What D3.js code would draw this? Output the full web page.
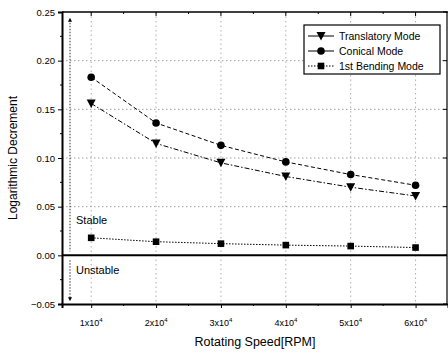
<!DOCTYPE html>
<html><head><meta charset="utf-8">
<script src="https://cdn.jsdelivr.net/npm/d3@7"></script>
<style>body{margin:0;background:#fff}svg{display:block}text{font-family:Arial,"Liberation Sans",sans-serif;fill:#000}</style>
</head><body><svg id="c" width="448" height="353"></svg>
<script>
const speeds = [1, 2, 3, 4, 5, 6];
const translatory = [0.156, 0.115, 0.095, 0.081, 0.070, 0.061];
const conical = [0.183, 0.136, 0.113, 0.096, 0.083, 0.072];
const bending = [0.018, 0.014, 0.012, 0.0105, 0.0095, 0.008];
const yTicks = [-0.05, 0, 0.05, 0.10, 0.15, 0.20, 0.25];
const xTickLabels = ["1x10", "2x10", "3x10", "4x10", "5x10", "6x10"];
const seriesNames = ["Translatory Mode", "Conical Mode", "1st Bending Mode"];

const svg = d3.select("#c");
const L = 62, R = 447, T = 12, B = 304;
const x = d3.scaleLinear().domain([0.55, 6.5]).range([L, R + 1]);
const y = d3.scaleLinear().domain([-0.05, 0.25]).range([B, T]);

// grid
const g = svg.append("g");
g.selectAll(".gy").data([0.05, 0.10, 0.15, 0.20]).join("line")
  .attr("x1", L).attr("x2", R).attr("y1", d => y(d)).attr("y2", d => y(d))
  .attr("stroke", "#888").attr("stroke-width", 0.8).attr("stroke-dasharray", "1.5,2.5");
g.selectAll(".gx").data(speeds).join("line")
  .attr("x1", d => x(d)).attr("x2", d => x(d)).attr("y1", T).attr("y2", B)
  .attr("stroke", "#999").attr("stroke-width", 0.8).attr("stroke-dasharray", "1.5,3");

// axes
const yAxis = d3.axisLeft(y).tickValues(yTicks).tickFormat(d3.format(".2f")).tickSize(4).tickPadding(3);
const ya = svg.append("g").attr("transform", `translate(${L},0)`).call(yAxis);
ya.select(".domain").attr("stroke-width", 2);
ya.selectAll("text").style("font-size", "9.5px").attr("font-family", "Arial");
// minor y ticks
svg.append("g").selectAll("line").data(d3.range(-0.025, 0.25, 0.05)).join("line")
  .attr("x1", L - 2).attr("x2", L).attr("y1", d => y(d)).attr("y2", d => y(d)).attr("stroke", "#000");

const xAxis = d3.axisBottom(x).tickValues(speeds).tickFormat("").tickSize(4);
const xa = svg.append("g").attr("transform", `translate(0,${B})`).call(xAxis);
xa.select(".domain").attr("stroke-width", 2);
svg.append("g").selectAll("line").data(d3.range(1.5, 6.5, 1)).join("line")
  .attr("x1", d => x(d)).attr("x2", d => x(d)).attr("y1", B).attr("y2", B + 2).attr("stroke", "#000");
// tick labels with superscript
const xl = svg.append("g").selectAll("text").data(speeds).join("text")
  .attr("x", d => x(d)).attr("y", 326).attr("text-anchor", "middle").style("font-size", "9px");
xl.append("tspan").text((d, i) => xTickLabels[i]);
xl.append("tspan").attr("dy", -4).style("font-size", "6px").text("4");

// top & right frame
svg.append("line").attr("x1", L).attr("x2", R + 1).attr("y1", T).attr("y2", T).attr("stroke", "#000").attr("stroke-width", 1.5);
svg.append("line").attr("x1", R).attr("x2", R).attr("y1", T).attr("y2", B).attr("stroke", "#000").attr("stroke-width", 1.2);
svg.append("g").selectAll("line").data(speeds).join("line")
  .attr("x1", d => x(d)).attr("x2", d => x(d)).attr("y1", T).attr("y2", T + 4).attr("stroke", "#000");
svg.append("g").selectAll("line").data(d3.range(1.5, 6.5, 1)).join("line")
  .attr("x1", d => x(d)).attr("x2", d => x(d)).attr("y1", T).attr("y2", T + 2).attr("stroke", "#000");
svg.append("g").selectAll("line").data(yTicks).join("line")
  .attr("x1", R - 4).attr("x2", R).attr("y1", d => y(d)).attr("y2", d => y(d)).attr("stroke", "#000");

// zero line
svg.append("line").attr("x1", L).attr("x2", R).attr("y1", y(0)).attr("y2", y(0)).attr("stroke", "#000").attr("stroke-width", 2);

// stability arrows
const defs = svg.append("defs");
defs.append("marker").attr("id", "ah").attr("viewBox", "0 0 6 6").attr("refX", 3).attr("refY", 3)
  .attr("markerWidth", 5).attr("markerHeight", 5).attr("orient", "auto-start-reverse")
  .append("path").attr("d", "M0,0L6,3L0,6Z").attr("fill", "#000");
svg.append("line").attr("x1", 70).attr("x2", 70).attr("y1", y(0.242)).attr("y2", y(0.004))
  .attr("stroke", "#000").attr("stroke-width", 0.8).attr("stroke-dasharray", "1.5,1.5")
  .attr("marker-start", "url(#ah)");
svg.append("line").attr("x1", 70).attr("x2", 70).attr("y1", y(-0.005)).attr("y2", y(-0.045))
  .attr("stroke", "#000").attr("stroke-width", 0.8).attr("stroke-dasharray", "1.5,1.5")
  .attr("marker-end", "url(#ah)");
svg.append("text").attr("x", 76).attr("y", 224).style("font-size", "11px").text("Stable");
svg.append("text").attr("x", 76).attr("y", 274).style("font-size", "11px").text("Unstable");

// series
const dashes = ["5,2,1.5,2", "4,2.5", "1.5,1.5"];
const data = [translatory, conical, bending];
const line = d3.line().x((d, i) => x(speeds[i])).y(d => y(d));
data.forEach((s, k) => {
  svg.append("path").datum(s).attr("d", line).attr("fill", "none").attr("stroke", "#000")
    .attr("stroke-width", 1).attr("stroke-dasharray", dashes[k]);
});
function marker(sel, k, cx, cy) {
  if (k === 0) sel.append("path").attr("d", `M${cx - 4.5},${cy - 4}L${cx + 4.5},${cy - 4}L${cx},${cy + 4.5}Z`).attr("fill", "#000");
  else if (k === 1) sel.append("circle").attr("cx", cx).attr("cy", cy).attr("r", 3.8).attr("fill", "#000");
  else sel.append("rect").attr("x", cx - 3.3).attr("y", cy - 3.3).attr("width", 6.6).attr("height", 6.6).attr("fill", "#000");
}
const mg = svg.append("g");
data.forEach((s, k) => s.forEach((v, i) => marker(mg, k, x(speeds[i]), y(v))));

// legend
const lg = svg.append("g");
lg.append("rect").attr("x", 304).attr("y", 25).attr("width", 136).attr("height", 49)
  .attr("fill", "#fff").attr("stroke", "#000").attr("stroke-width", 1.2);
seriesNames.forEach((n, k) => {
  const yy = 36 + k * 15;
  lg.append("line").attr("x1", 308).attr("x2", 334).attr("y1", yy).attr("y2", yy)
    .attr("stroke", "#000").attr("stroke-width", 1).attr("stroke-dasharray", k === 2 ? "1.5,1.5" : null);
  marker(lg, k, 321, yy);
  lg.append("text").attr("x", 339).attr("y", yy + 4).style("font-size", "10.5px").text(n);
});

// titles
svg.append("text").attr("x", 255).attr("y", 346).attr("text-anchor", "middle").style("font-size", "12.5px").text("Rotating Speed[RPM]");
svg.append("text").attr("transform", "translate(17,158) rotate(-90)").attr("text-anchor", "middle")
  .style("font-size", "12px").text("Logarithmic Decrement");
</script></body></html>
